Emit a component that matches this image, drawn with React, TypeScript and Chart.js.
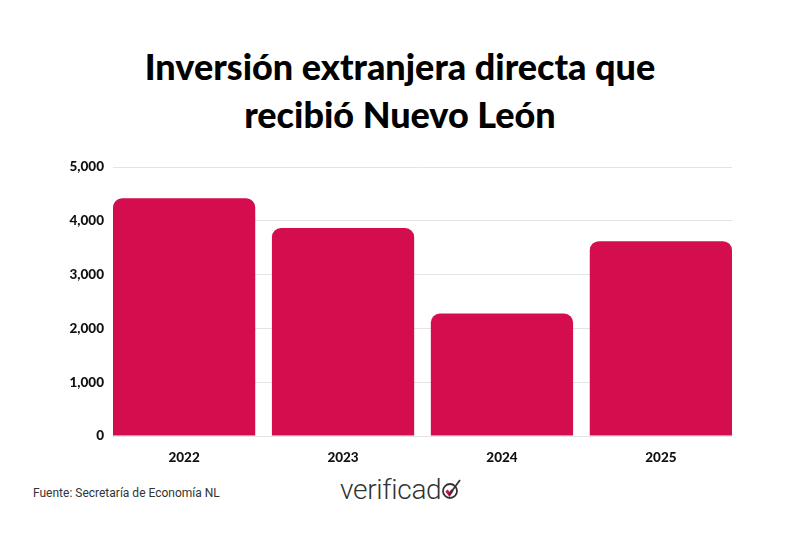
import React, { useEffect, useRef } from "react";
import { Chart, registerables } from "chart.js";

Chart.register(...registerables);

const years = ["2022", "2023", "2024", "2025"];
const inversion = [4420, 3867, 2278, 3622];
const yTicks = [0, 1000, 2000, 3000, 4000, 5000];

const BAR_COLOR = "#D30D4E";
const TITLE_FONT = "'Lato', 'DejaVu Sans', sans-serif";

function Logo() {
  return (
    <div
      style={{
        position: "absolute",
        left: 340,
        top: 474,
        display: "flex",
        alignItems: "flex-end",
        fontFamily: "'Roboto', 'DejaVu Sans', sans-serif",
        fontWeight: 300,
        fontSize: 28,
        lineHeight: "32px",
        color: "#333",
        letterSpacing: -0.3,
      }}
    >
      <span>verificad</span>
      <svg width="22" height="26" viewBox="0 0 22 26" style={{ marginBottom: 5, marginLeft: 0 }}>
        <circle cx="9" cy="16" r="7" fill="none" stroke="#333" strokeWidth="1.8" />
        <path d="M5.5 15.5 L8.5 19.5 L11.5 15" fill="none" stroke={BAR_COLOR} strokeWidth="3" />
        <path d="M8 20 L19 5" fill="none" stroke="#333" strokeWidth="1.8" />
      </svg>
    </div>
  );
}

export default function App() {
  const canvasRef = useRef<HTMLCanvasElement | null>(null);

  useEffect(() => {
    const ctx = canvasRef.current;
    if (!ctx) return;
    const chart = new Chart(ctx, {
      type: "bar",
      data: {
        datasets: [
          {
            data: inversion.map((v, i) => ({ x: i, y: v })),
            backgroundColor: BAR_COLOR,
            borderRadius: 9,
            borderSkipped: "bottom",
            categoryPercentage: 1,
            barPercentage: 0.895,
          },
        ],
      },
      options: {
        animation: false,
        responsive: false,
        maintainAspectRatio: false,
        layout: { padding: { top: 12, right: 68, bottom: 0, left: 0 } },
        plugins: {
          legend: { display: false },
          tooltip: { enabled: false },
        },
        scales: {
          x: {
            type: "linear",
            offset: false,
            min: -0.4475,
            max: 3.4475,
            grid: { display: false },
            border: { display: false },
            afterBuildTicks: (scale: any) => {
              scale.ticks = years.map((_, i) => ({ value: i }));
            },
            afterFit: (scale: any) => {
              scale.height = 30;
            },
            ticks: {
              padding: 6,
              color: "#111",
              font: { family: TITLE_FONT, size: 13.5, weight: "900" },
              callback: (v: any) => years[v as number] ?? "",
            },
          },
          y: {
            min: 0,
            max: 5000,
            grid: { color: "#e4e4e4", lineWidth: 1, drawTicks: false },
            border: { display: false },
            afterBuildTicks: (scale: any) => {
              scale.ticks = yTicks.map((v) => ({ value: v }));
            },
            afterFit: (scale: any) => {
              scale.width = 113;
            },
            ticks: {
              padding: 9,
              color: "#111",
              font: { family: TITLE_FONT, size: 13.5, weight: "900" },
              callback: (v: any) => Number(v).toLocaleString("en-US"),
            },
          },
        },
      },
    });
    return () => chart.destroy();
  }, []);

  return (
    <div
      style={{
        position: "absolute",
        left: 0,
        top: 0,
        width: 800,
        height: 533,
        background: "#fff",
        overflow: "hidden",
      }}
    >
      <div
        style={{
          position: "absolute",
          left: 0,
          top: 42,
          width: 800,
          textAlign: "center",
          fontFamily: TITLE_FONT,
          fontWeight: 900,
          fontSize: 36,
          lineHeight: "48px",
          color: "#000",
        }}
      >
        Inversión extranjera directa que
        <br />
        recibió Nuevo León
      </div>
      <canvas
        ref={canvasRef}
        width={800}
        height={316}
        style={{ position: "absolute", left: 0, top: 150, width: 800, height: 316 }}
      />
      <div
        style={{
          position: "absolute",
          left: 33,
          top: 486,
          fontFamily: "'Roboto', 'DejaVu Sans', sans-serif",
          fontSize: 12,
          color: "#333",
        }}
      >
        Fuente: Secretaría de Economía NL
      </div>
      <Logo />
    </div>
  );
}
